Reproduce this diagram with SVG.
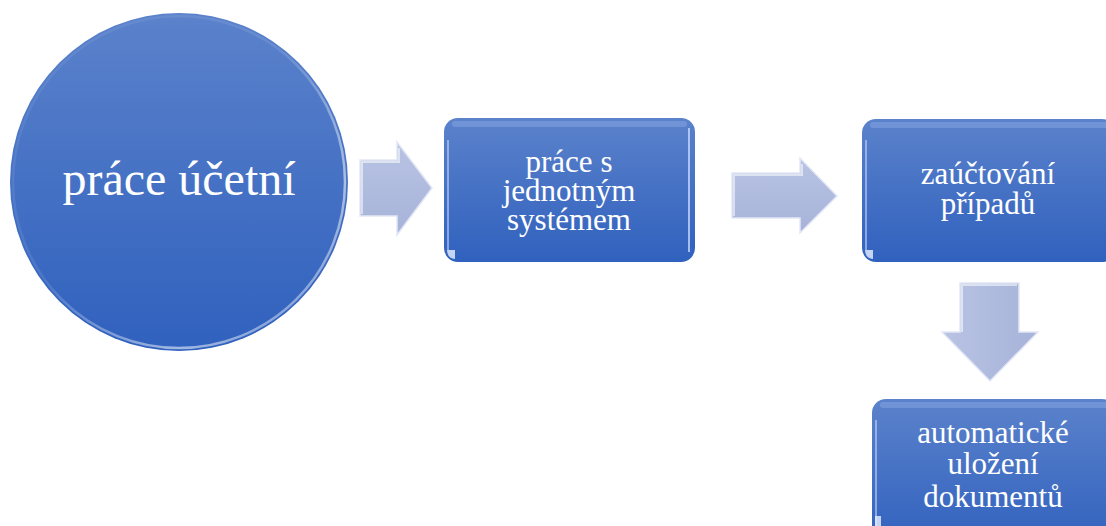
<svg xmlns="http://www.w3.org/2000/svg" width="1106" height="526" viewBox="0 0 1106 526">
  <defs>
    <linearGradient id="blueFill" x1="0" y1="0" x2="0" y2="1">
      <stop offset="0" stop-color="#5b82cb"/>
      <stop offset="1" stop-color="#3061be"/>
    </linearGradient>
    <linearGradient id="arrowFill" x1="0" y1="0" x2="0" y2="1">
      <stop offset="0" stop-color="#b9c4e4"/>
      <stop offset="1" stop-color="#a6b2d8"/>
    </linearGradient>
    <linearGradient id="arrowFillV" x1="0" y1="0" x2="1" y2="0">
      <stop offset="0" stop-color="#b9c4e4"/>
      <stop offset="1" stop-color="#a6b2d8"/>
    </linearGradient>
    <linearGradient id="rim" x1="0" y1="0" x2="1" y2="1">
      <stop offset="0" stop-color="#ffffff" stop-opacity="0.05"/>
      <stop offset="0.45" stop-color="#ffffff" stop-opacity="0.1"/>
      <stop offset="0.75" stop-color="#ffffff" stop-opacity="0.55"/>
      <stop offset="1" stop-color="#ffffff" stop-opacity="0.25"/>
    </linearGradient>
  </defs>
  <style>
    .node { fill: url(#blueFill); }
    .hl { fill: none; stroke: #c9dcff; stroke-opacity: 0.75; }
    .topband { fill: #9ab8ee; opacity: 0.35; }
    .label { font-family: "Liberation Serif", "Times New Roman", serif; fill: #ffffff; text-anchor: middle; }
    .big { font-size: 48px; }
    .txt { font-size: 31px; }
    .arrow { stroke: #e2e7f5; stroke-width: 1.5; stroke-linejoin: miter; }
    .bevel { fill: none; stroke: #ffffff; stroke-opacity: 0.55; stroke-width: 2; }
  </style>

  <g id="connectors">
    <polygon class="arrow" fill="url(#arrowFill)" points="360,160 397,160 397,142 432,188 397,235 397,216 360,216"/>
    <polyline class="bevel" points="362,214 362,162 399,162 399,148"/>
    <polygon class="arrow" fill="url(#arrowFill)" points="732,173 800,173 800,158 837,196 800,233 800,218 732,218"/>
    <polyline class="bevel" points="734,216 734,175 802,175 802,164"/>
    <polygon class="arrow" fill="url(#arrowFillV)" points="960,283 1019,283 1019,332 1038,332 990,381 942,332 960,332"/>
    <polyline class="bevel" points="962,332 962,285 1017,285"/>
  </g>

  <g id="node-prace-ucetni">
    <circle class="node" cx="179" cy="182" r="169"/>
    <circle cx="179" cy="182" r="166" fill="none" stroke="url(#rim)" stroke-width="2.5"/>
    <text class="label big" x="179" y="195">práce účetní</text>
  </g>

  <g id="node-prace-s-jednotnym-systemem">
    <rect class="node" x="444" y="118" width="251" height="144" rx="14"/>
    <rect class="topband" x="452" y="121" width="235" height="6" rx="3"/>
    <path class="hl" stroke-width="2" d="M689,128 L689,252"/>
    <path class="hl" stroke-width="1.5" d="M448,140 L448,250"/>
    <path d="M447,250 Q447,258 455,259 L455,250 Z" fill="#e8f0ff" opacity="0.8"/>
    <text class="label txt" x="569" y="172">práce s</text>
    <text class="label txt" x="569" y="201">jednotným</text>
    <text class="label txt" x="569" y="230">systémem</text>
  </g>

  <g id="node-zauctovani-pripadu">
    <rect class="node" x="862" y="119" width="254" height="143" rx="14"/>
    <rect class="topband" x="870" y="122" width="240" height="6" rx="3"/>
    <path class="hl" stroke-width="1.5" d="M866,140 L866,250"/>
    <path d="M865,250 Q865,258 873,259 L873,250 Z" fill="#e8f0ff" opacity="0.8"/>
    <text class="label txt" x="988" y="184">zaúčtování</text>
    <text class="label txt" x="988" y="214">případů</text>
  </g>

  <g id="node-automaticke-ulozeni-dokumentu">
    <rect class="node" x="872" y="399" width="244" height="150" rx="14"/>
    <rect class="topband" x="880" y="402" width="230" height="6" rx="3"/>
    <path class="hl" stroke-width="1.5" d="M876,420 L876,526"/>
    <path d="M875,516 L875,526 L881,526 L881,516 Z" fill="#e8f0ff" opacity="0.8"/>
    <text class="label txt" x="993" y="443">automatické</text>
    <text class="label txt" x="993" y="474">uložení</text>
    <text class="label txt" x="993" y="507">dokumentů</text>
  </g>
</svg>
